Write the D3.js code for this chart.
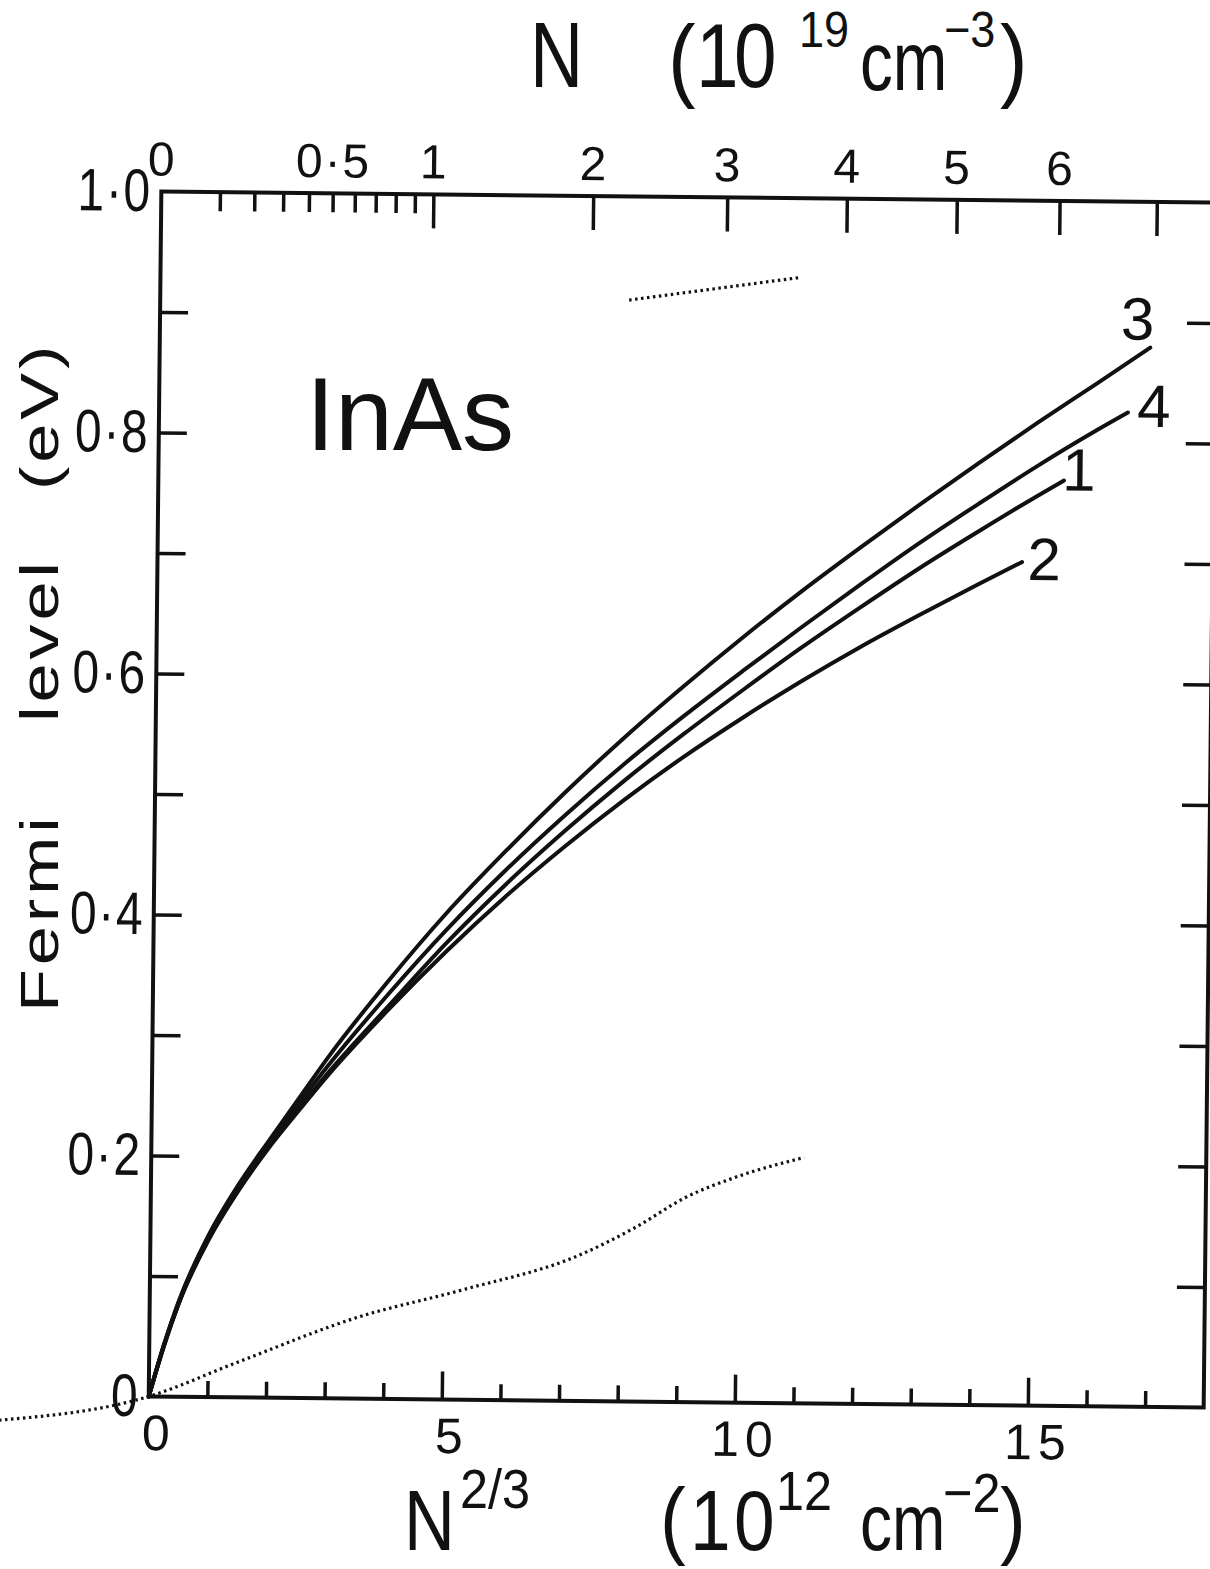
<!DOCTYPE html>
<html>
<head>
<meta charset="utf-8">
<script src="https://cdn.jsdelivr.net/npm/d3@7"></script>
<style>
  html, body { margin: 0; padding: 0; background: #fff; }
  svg text { font-family: "Liberation Sans", "DejaVu Sans", sans-serif; fill: #111; }
  .axis line { stroke: #111; stroke-width: 3.5px; }
  .axis path.domain { display: none; }
  .axis text { font-size: 50px; letter-spacing: 6px; }
  .ylab text { font-size: 60px; letter-spacing: 2px; }
  .toplab text { font-size: 48px; letter-spacing: 2px; }
</style>
</head>
<body>
<svg id="chart" width="1210" height="1569"></svg>
<script>
// ---- axes: bottom is N^(2/3) in 10^12 cm^-2, left is Fermi level in eV ----
const xMinorTicks = [1, 2, 3, 4, 6, 7, 8, 9, 11, 12, 13, 14, 16, 17];
const xMajorTicks = [5, 10, 15];
const xTickLabels = [0, 5, 10, 15];
const yTicks = [0.1, 0.2, 0.3, 0.4, 0.5, 0.6, 0.7, 0.8, 0.9];
const yTickValues = [0, 0.2, 0.4, 0.6, 0.8, 1.0];
const yTickLabels = ["0", "0·2", "0·4", "0·6", "0·8", "1·0"];

// top axis: N in 10^19 cm^-3, placed at its N^(2/3) position
const nMinorTicks = [0.1, 0.2, 0.3, 0.4, 0.5, 0.6, 0.7, 0.8, 0.9];
const nMajorTicks = [1, 2, 3, 4, 5, 6, 7];
const nTickValues = [0, 0.5, 1, 2, 3, 4, 5, 6];
const nTickLabels = ["0", "0·5", "1", "2", "3", "4", "5", "6"];
const n23PerN = Math.pow(10, 2 / 3);   // (10^19 cm^-3)^(2/3) in 10^12 cm^-2

// ---- Fermi level curves (x: N^(2/3), y: eV) ----
const curve1X = [0, 0.25, 0.5, 1, 1.5, 2, 2.5, 3, 4, 5, 6, 7, 8, 9, 10, 11, 12, 13, 14, 15, 15.45];
const curve1Y = [0, 0.042, 0.078, 0.132, 0.173, 0.208, 0.240, 0.270, 0.325, 0.379, 0.428, 0.473, 0.515, 0.554, 0.591, 0.627, 0.661, 0.694, 0.725, 0.755, 0.768];

const curve2X = [0, 0.25, 0.5, 1, 1.5, 2, 2.5, 3, 4, 5, 6, 7, 8, 9, 10, 11, 12, 13, 14, 14.75];
const curve2Y = [0, 0.042, 0.078, 0.131, 0.172, 0.207, 0.238, 0.268, 0.322, 0.372, 0.418, 0.460, 0.499, 0.535, 0.568, 0.599, 0.628, 0.655, 0.681, 0.700];

const curve3X = [0, 0.25, 0.5, 1, 1.5, 2, 2.5, 3, 4, 5, 6, 7, 8, 9, 10, 11, 12, 13, 14, 15, 16, 16.9];
const curve3Y = [0, 0.043, 0.080, 0.135, 0.177, 0.213, 0.248, 0.283, 0.346, 0.404, 0.456, 0.505, 0.551, 0.594, 0.635, 0.674, 0.711, 0.747, 0.782, 0.816, 0.849, 0.879];

const curve4X = [0, 0.25, 0.5, 1, 1.5, 2, 2.5, 3, 4, 5, 6, 7, 8, 9, 10, 11, 12, 13, 14, 15, 16, 16.53];
const curve4Y = [0, 0.043, 0.079, 0.134, 0.175, 0.210, 0.244, 0.276, 0.335, 0.390, 0.440, 0.486, 0.529, 0.569, 0.607, 0.644, 0.680, 0.715, 0.748, 0.780, 0.810, 0.825];

const curveNames = ["1", "2", "3", "4"];

// dotted traces
const dotLowX = [-2.55, 0, 1.5, 3.58, 5.32, 7.32, 8.29, 9.13, 9.97, 11.14];
const dotLowY = [-0.021, 0, 0.029, 0.068, 0.091, 0.121, 0.145, 0.170, 0.187, 0.204];
const dotHighX = [8.0, 10.88];
const dotHighY = [0.914, 0.934];

// ---- layout ----
const margin = { left: 155, top: 197 };
const width = 1055, height = 1205;
const tilt = 0.6;   // the whole frame sits slightly rotated

const svg = d3.select("#chart");
svg.append("rect").attr("width", 1210).attr("height", 1569).attr("fill", "#fff");

const frame = svg.append("g")
  .attr("transform", `rotate(${tilt}, 680, 800) translate(${margin.left},${margin.top})`);

const x = d3.scaleLinear().domain([0, 18]).range([0, width]);
const y = d3.scaleLinear().domain([0, 1]).range([height, 0]);
const nScale = d3.scalePow().exponent(2 / 3).domain([0, 1]).range([0, x(n23PerN)]);

// frame
frame.append("rect")
  .attr("x", 0).attr("y", 0).attr("width", width).attr("height", height)
  .attr("fill", "none").attr("stroke", "#111").attr("stroke-width", 4);

// bottom ticks (inward)
frame.append("g").attr("class", "axis").attr("transform", `translate(0,${height})`)
  .call(d3.axisBottom(x).tickValues(xMinorTicks).tickSize(-16).tickFormat(""));
frame.append("g").attr("class", "axis").attr("transform", `translate(0,${height})`)
  .call(d3.axisBottom(x).tickValues(xMajorTicks).tickSize(-28).tickFormat(""));
const bl = frame.append("g").attr("class", "axis").attr("transform", `translate(10,${height})`)
  .call(d3.axisBottom(x).tickValues(xTickLabels).tickSize(0).tickPadding(18).tickFormat(d3.format("d")));
bl.selectAll("line").remove();

// left ticks and labels
frame.append("g").attr("class", "axis")
  .call(d3.axisLeft(y).tickValues(yTicks).tickSize(-28).tickFormat(""));
const ylab = frame.append("g").attr("class", "axis ylab")
  .call(d3.axisLeft(y).tickValues(yTickValues).tickSize(0).tickPadding(12)
    .tickFormat((d, i) => yTickLabels[i]));
ylab.selectAll("line").remove();
ylab.selectAll("text").attr("transform", "scale(0.8,1)");

// right ticks
frame.append("g").attr("class", "axis").attr("transform", `translate(${width},0)`)
  .call(d3.axisRight(y).tickValues(yTicks).tickSize(-28).tickFormat(""));

// top ticks: N scale
frame.append("g").attr("class", "axis")
  .call(d3.axisTop(nScale).tickValues(nMinorTicks).tickSize(-19).tickFormat(""));
frame.append("g").attr("class", "axis")
  .call(d3.axisTop(nScale).tickValues(nMajorTicks).tickSize(-34).tickFormat(""));
const tl = frame.append("g").attr("class", "axis toplab")
  .call(d3.axisTop(nScale).tickValues(nTickValues).tickSize(0).tickPadding(16)
    .tickFormat((d, i) => nTickLabels[i]));
tl.selectAll("line").remove();

// curves
const line = d3.line().x(d => x(d[0])).y(d => y(d[1])).curve(d3.curveMonotoneX);
const zip = (xs, ys) => xs.map((v, i) => [v, ys[i]]);
const curves = [zip(curve1X, curve1Y), zip(curve2X, curve2Y), zip(curve3X, curve3Y), zip(curve4X, curve4Y)];

frame.append("g").selectAll("path").data(curves).join("path")
  .attr("d", line)
  .attr("fill", "none").attr("stroke", "#111").attr("stroke-width", 4)
  .attr("stroke-linecap", "round");

// curve numbers next to each line end
const labelShift = [[15, 10], [22, 18], [-13, -8], [26, 14]];
frame.append("g").selectAll("text").data(curves).join("text")
  .attr("x", (d, i) => x(d[d.length - 1][0]) + labelShift[i][0])
  .attr("y", (d, i) => y(d[d.length - 1][1]) + labelShift[i][1])
  .attr("text-anchor", "middle")
  .style("font-size", "60px")
  .text((d, i) => curveNames[i]);

// dotted traces
frame.append("g").selectAll("path")
  .data([zip(dotLowX, dotLowY), zip(dotHighX, dotHighY)]).join("path")
  .attr("d", line)
  .attr("fill", "none").attr("stroke", "#111").attr("stroke-width", 3.2)
  .attr("stroke-dasharray", "2.5 3.5");

// material label
svg.append("text").attr("x", 306).attr("y", 450)
  .style("font-size", "104px").text("InAs");

// lettering helper: narrow, hand-lettered proportions
function letter(g, str, px, py, size, sx) {
  g.append("text")
    .attr("transform", `translate(${px},${py}) scale(${sx},1)`)
    .style("font-size", size + "px")
    .text(str);
}

// top title: N (10^19 cm^-3)
const topTitle = svg.append("g");
letter(topTitle, "N", 530, 87, 92, 0.8);
letter(topTitle, "(", 668, 90, 92, 0.9);
letter(topTitle, "1", 696, 87, 90, 0.85);
letter(topTitle, "0", 734, 87, 90, 0.85);
letter(topTitle, "19", 799, 47, 50, 0.9);
letter(topTitle, "cm", 860, 90, 84, 0.78);
letter(topTitle, "−3", 944, 47, 50, 0.9);
letter(topTitle, ")", 1000, 90, 92, 0.9);

// bottom title: N^(2/3) (10^12 cm^-2)
const botTitle = svg.append("g");
letter(botTitle, "N", 404, 1550, 86, 0.82);
letter(botTitle, "2/3", 460, 1508, 56, 0.9);
letter(botTitle, "(", 660, 1548, 86, 0.9);
letter(botTitle, "1", 690, 1550, 86, 0.85);
letter(botTitle, "0", 734, 1550, 86, 0.85);
letter(botTitle, "12", 776, 1510, 56, 0.9);
letter(botTitle, "cm", 860, 1550, 80, 0.8);
letter(botTitle, "−2", 943, 1512, 56, 0.9);
letter(botTitle, ")", 1000, 1548, 86, 0.9);

// left title: Fermi level (eV)
const yTitle = svg.append("g").attr("transform", "translate(58,0) rotate(-90)")
  .style("letter-spacing", "3px");
[["Fermi", -1012], ["level", -722], ["(eV)", -490]].forEach(([w, p]) => {
  yTitle.append("text")
    .attr("transform", `translate(${p},0) scale(1.3,1)`)
    .style("font-size", "54px")
    .text(w);
});
</script>
</body>
</html>
